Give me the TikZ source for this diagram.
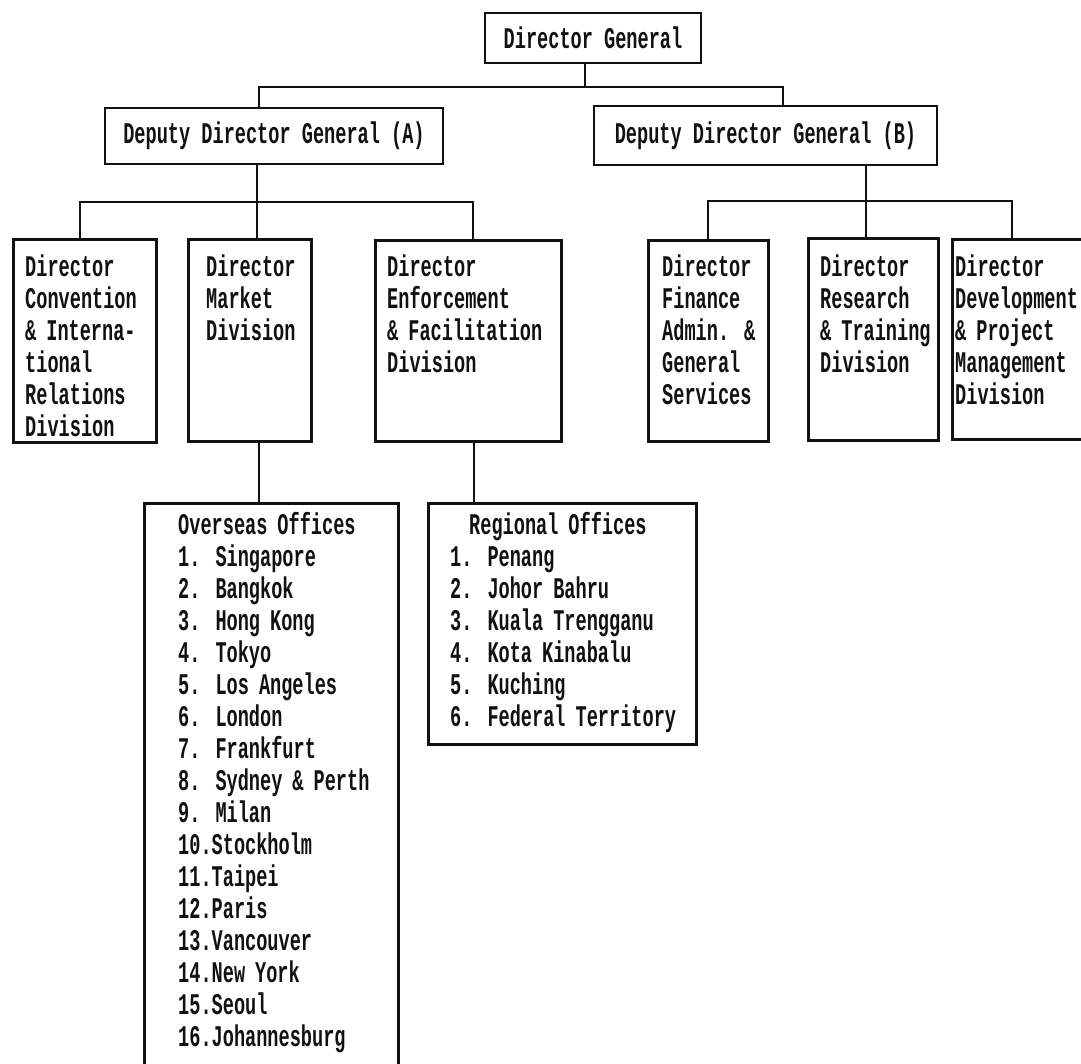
\documentclass[tikz,border=0pt]{standalone}
\usepackage{fontspec}
\setmainfont{Liberation Mono}[FakeStretch=0.62]
\usepackage{tikz}
\usetikzlibrary{calc}
\definecolor{ink}{HTML}{111111}
\newcommand\typo{\bfseries\fontsize{30}{32}\selectfont}
\tikzset{
  cadre/.style={rectangle, draw=ink, line width=2.6pt, inner sep=0pt, font=\typo, text=ink},
  libel/.style={anchor=base west, inner sep=0pt, align=left, text width=240pt, font=\typo, text=ink},
  link/.style={draw=ink, line width=1.8pt},
}

\begin{document}
\begin{tikzpicture}[x=1pt, y=-1pt]
  \fill[white] (0,0) rectangle (1081,1063);
  \useasboundingbox (0,0) rectangle (1081,1063);
  % top levels
  \node[cadre, minimum width=216pt, minimum height=50pt] (dg) at (593,38) {Director General};
  \node[cadre, minimum width=338pt, minimum height=56pt] (ddga) at (274,136) {Deputy Director General (A)};
  \node[cadre, minimum width=343pt, minimum height=59pt] (ddgb) at (765.5,135.5) {Deputy Director General (B)};
  % divisions (A)
  \node[cadre, anchor=north west, minimum width=143pt, minimum height=203pt] (conv) at (12,238) {};
  \node[cadre, anchor=north west, minimum width=123pt, minimum height=202pt] (mkt) at (187,238) {};
  \node[cadre, anchor=north west, minimum width=186pt, minimum height=201pt] (enf) at (374,239) {};
  \node[libel] (convT) at (25,276) {Director\\Convention\\\& Interna-\\tional\\Relations\\Division};
  \node[libel] (mktT) at (206,276) {Director\\Market\\Division};
  \node[libel] (enfT) at (387,276) {Director\\Enforcement\\\& Facilitation\\Division};
  % divisions (B)
  \node[cadre, anchor=north west, minimum width=120pt, minimum height=201pt] (fin) at (647,239) {};
  \node[cadre, anchor=north west, minimum width=130pt, minimum height=202pt] (res) at (807,237) {};
  \node[cadre, anchor=north west, minimum width=150pt, minimum height=200pt] (dev) at (951,238) {};
  \node[libel] (finT) at (662,276) {Director\\Finance\\Admin. \&\\General\\Services};
  \node[libel] (resT) at (820,276) {Director\\Research\\\& Training\\Division};
  \node[libel] (devT) at (955,276) {Director\\Development\\\& Project\\Management\\Division};
  % offices
  \node[cadre, anchor=north west, minimum width=254pt, minimum height=600pt] (ovs) at (143,502) {};
  \node[cadre, anchor=north west, minimum width=268pt, minimum height=241pt] (reg) at (427,502) {};
  \node[libel] (ovsT) at (178,534) {Overseas Offices\\1. Singapore\\2. Bangkok\\3. Hong Kong\\4. Tokyo\\5. Los Angeles\\6. London\\7. Frankfurt\\8. Sydney \& Perth\\9. Milan\\10.Stockholm\\11.Taipei\\12.Paris\\13.Vancouver\\14.New York\\15.Seoul\\16.Johannesburg};
  \node[libel] (regT) at (450,534) {\hspace*{19pt}Regional Offices\\1. Penang\\2. Johor Bahru\\3. Kuala Trengganu\\4. Kota Kinabalu\\5. Kuching\\6. Federal Territory};
  % connectors
  \draw[link] ([xshift=-8pt]dg.south) -- ++(0,23) coordinate (busDG);
  \draw[link] ([xshift=-15pt]ddga.north) |- (busDG) -| ([xshift=17.5pt]ddgb.north);
  \draw[link] ([xshift=-17pt]ddga.south) -- ++(0,37) coordinate (busA);
  \draw[link] ([xshift=-4.5pt]conv.north) |- (busA) -| ([xshift=5pt]enf.north);
  \draw[link] (busA) -- (busA |- mkt.north);
  \draw[link] ([xshift=100.5pt]ddgb.south) -- ++(0,35) coordinate (busB);
  \draw[link] (fin.north) |- (busB) -| ([xshift=-15pt]dev.north);
  \draw[link] (busB) -- (busB |- res.north);
  \draw[link] ([xshift=9.5pt]mkt.south) -- ([xshift=9.5pt]mkt.south |- ovs.north);
  \draw[link] ([xshift=6pt]enf.south) -- ([xshift=6pt]enf.south |- reg.north);
\end{tikzpicture}
\end{document}
